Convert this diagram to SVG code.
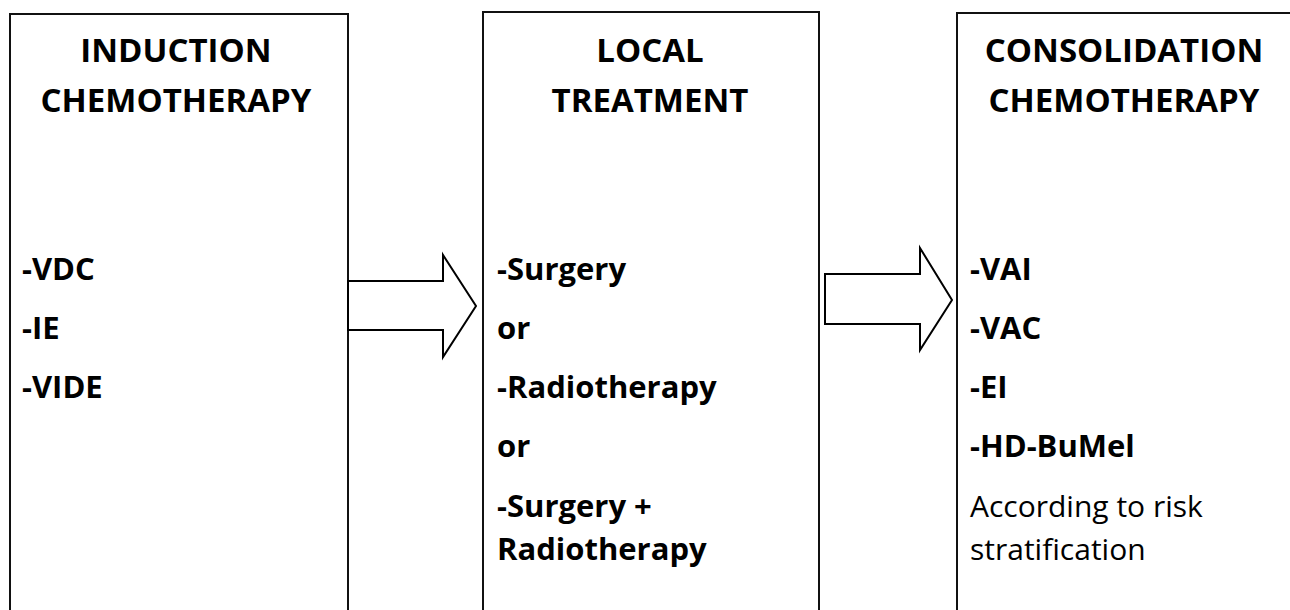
<svg xmlns="http://www.w3.org/2000/svg" width="1290" height="610" viewBox="0 0 1290 610">
<style>
.box{fill:#fff;stroke:#111;stroke-width:2}
.arrow{fill:#fff;stroke:#000;stroke-width:2;stroke-linejoin:miter}
.title{font-family:"Open Sans","Liberation Sans",sans-serif;font-weight:bold;font-size:33px;fill:#000;text-anchor:middle}
.item{font-family:"Open Sans","Liberation Sans",sans-serif;font-weight:bold;font-size:31px;fill:#000}
.note{font-family:"Open Sans","Liberation Sans",sans-serif;font-weight:normal;font-size:30px;fill:#000}
</style>
<rect width="1290" height="610" fill="#fff"/>
<g id="induction">
<rect class="box" x="10" y="14" width="338" height="620"/>
<text class="title" x="176" y="62">INDUCTION</text>
<text class="title" x="176" y="112">CHEMOTHERAPY</text>
<text class="item" x="22" y="280">-VDC</text>
<text class="item" x="22" y="339">-IE</text>
<text class="item" x="22" y="398">-VIDE</text>
</g>
<g id="local">
<rect class="box" x="483" y="12" width="336" height="620"/>
<text class="title" x="650" y="62">LOCAL</text>
<text class="title" x="650" y="112">TREATMENT</text>
<text class="item" x="497" y="280">-Surgery</text>
<text class="item" x="497" y="339">or</text>
<text class="item" x="497" y="398">-Radiotherapy</text>
<text class="item" x="497" y="457">or</text>
<text class="item" x="497" y="517">-Surgery +</text>
<text class="item" x="497" y="560">Radiotherapy</text>
</g>
<g id="consolidation">
<rect class="box" x="957" y="13" width="360" height="620"/>
<text class="title" x="1124" y="62">CONSOLIDATION</text>
<text class="title" x="1124" y="112">CHEMOTHERAPY</text>
<text class="item" x="970" y="280">-VAI</text>
<text class="item" x="970" y="339">-VAC</text>
<text class="item" x="970" y="398">-EI</text>
<text class="item" x="970" y="457">-HD-BuMel</text>
<text class="note" x="970" y="517">According to risk</text>
<text class="note" x="970" y="560">stratification</text>
</g>
<g id="connectors">
<polygon class="arrow" points="348,281 443,281 443,255 476,306 443,357 443,330 348,330"/>
<polygon class="arrow" points="825,274 920,274 920,248 952,300 920,350 920,324 825,324"/>
</g>
</svg>
